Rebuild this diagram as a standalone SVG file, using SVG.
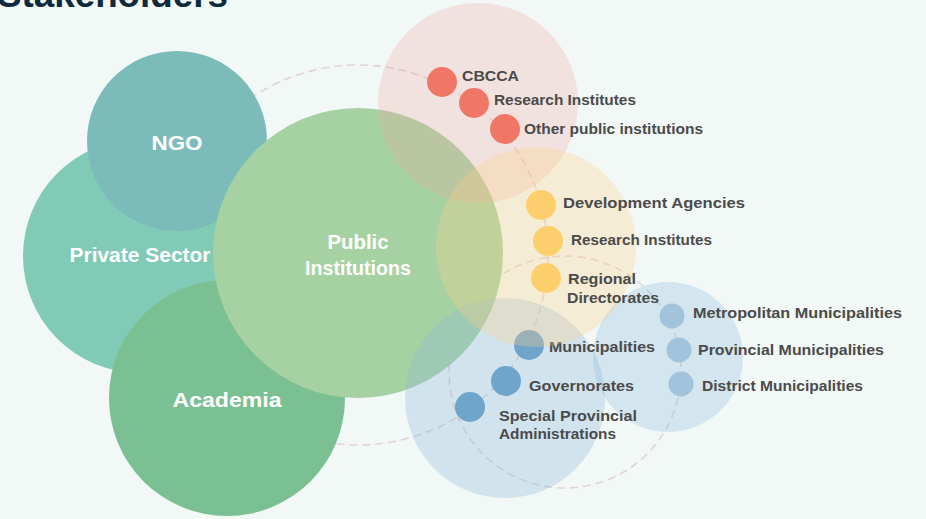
<svg xmlns="http://www.w3.org/2000/svg" width="926" height="519" viewBox="0 0 926 519">
<style>
.lbl{font-family:"Liberation Sans",Arial,sans-serif;font-weight:bold;font-size:15px;fill:#4b4b4b}
.wl{font-family:"Liberation Sans",Arial,sans-serif;font-weight:bold;font-size:21px;fill:#ffffff;text-anchor:middle}
.dash{fill:none;stroke:#e2d3d5;stroke-width:1.6;stroke-dasharray:8 5}
.red{fill:#f07766}
.yel{fill:#fdcf6c}
.dblue{fill:#6fa5ca}
.lblue{fill:#a2c3dc}
</style>
<rect width="926" height="519" fill="#f1f8f6"/>
<text x="-3" y="7" font-family="Liberation Sans,Arial,sans-serif" font-weight="bold" font-size="36" fill="#0f2a3c" textLength="231" lengthAdjust="spacingAndGlyphs">Stakeholders</text>
<g id="connectors">
<circle class="dash" cx="358" cy="255" r="190"/>
<circle class="dash" cx="565" cy="372" r="116"/>
</g>
<g id="private-sector">
<circle cx="140" cy="256" r="117" fill="#80cab6"/>
<text class="wl" x="140" y="262" textLength="141" lengthAdjust="spacingAndGlyphs">Private Sector</text>
</g>
<g id="ngo">
<circle cx="177" cy="141" r="90" fill="#7bbcbb"/>
<text class="wl" x="177" y="150" textLength="51" lengthAdjust="spacingAndGlyphs">NGO</text>
</g>
<g id="academia">
<circle cx="227" cy="398" r="118" fill="#7bc092"/>
<text class="wl" x="227" y="407" textLength="109" lengthAdjust="spacingAndGlyphs">Academia</text>
</g>
<g id="public-institutions">
<circle cx="358" cy="253" r="145" fill="#a6d1a2"/>
<text class="wl" x="358" y="249" textLength="61" lengthAdjust="spacingAndGlyphs">Public</text>
<text class="wl" x="358" y="275" textLength="106" lengthAdjust="spacingAndGlyphs">Institutions</text>
</g>
<g id="group-red">
<circle cx="478" cy="103" r="100" fill="#f5a39e" opacity="0.26"/>
</g>
<g id="group-blue">
<circle cx="505" cy="398" r="100" fill="#8fb9d9" opacity="0.32"/>
<circle cx="668" cy="357" r="75" fill="#8fb9d9" opacity="0.3"/>
</g>
<g id="municipalities">
<circle class="dblue" cx="529" cy="345" r="15"/>
<text class="lbl" x="549" y="352" textLength="106" lengthAdjust="spacingAndGlyphs">Municipalities</text>
</g>
<g id="governorates">
<circle class="dblue" cx="506" cy="381" r="15"/>
<text class="lbl" x="529" y="391" textLength="105" lengthAdjust="spacingAndGlyphs">Governorates</text>
</g>
<g id="special-provincial-administrations">
<circle class="dblue" cx="470" cy="407" r="15"/>
<text class="lbl" x="499" y="421" textLength="138" lengthAdjust="spacingAndGlyphs">Special Provincial</text>
<text class="lbl" x="499" y="439" textLength="117" lengthAdjust="spacingAndGlyphs">Administrations</text>
</g>
<g id="metropolitan-municipalities">
<circle class="lblue" cx="672" cy="316" r="12.5"/>
<text class="lbl" x="693" y="318" textLength="209" lengthAdjust="spacingAndGlyphs">Metropolitan Municipalities</text>
</g>
<g id="provincial-municipalities">
<circle class="lblue" cx="679" cy="350" r="12.5"/>
<text class="lbl" x="698" y="355" textLength="186" lengthAdjust="spacingAndGlyphs">Provincial Municipalities</text>
</g>
<g id="district-municipalities">
<circle class="lblue" cx="681" cy="384" r="12.5"/>
<text class="lbl" x="702" y="391" textLength="161" lengthAdjust="spacingAndGlyphs">District Municipalities</text>
</g>
<g id="group-yellow">
<circle cx="536" cy="247" r="100" fill="#fed088" opacity="0.3"/>
</g>
<g id="development-agencies">
<circle class="yel" cx="541" cy="205" r="15"/>
<text class="lbl" x="563" y="208" textLength="182" lengthAdjust="spacingAndGlyphs">Development Agencies</text>
</g>
<g id="research-institutes-2">
<circle class="yel" cx="548" cy="241" r="15"/>
<text class="lbl" x="571" y="245" textLength="141" lengthAdjust="spacingAndGlyphs">Research Institutes</text>
</g>
<g id="regional-directorates">
<circle class="yel" cx="546" cy="278" r="15"/>
<text class="lbl" x="568" y="284" textLength="68" lengthAdjust="spacingAndGlyphs">Regional</text>
<text class="lbl" x="567" y="303" textLength="92" lengthAdjust="spacingAndGlyphs">Directorates</text>
</g>
<g id="cbcca">
<circle class="red" cx="442" cy="82" r="15"/>
<text class="lbl" x="462" y="81" textLength="57" lengthAdjust="spacingAndGlyphs">CBCCA</text>
</g>
<g id="research-institutes-1">
<circle class="red" cx="474" cy="103" r="15"/>
<text class="lbl" x="494" y="105" textLength="142" lengthAdjust="spacingAndGlyphs">Research Institutes</text>
</g>
<g id="other-public-institutions">
<circle class="red" cx="505" cy="129" r="15"/>
<text class="lbl" x="524" y="134" textLength="179" lengthAdjust="spacingAndGlyphs">Other public institutions</text>
</g>
</svg>
